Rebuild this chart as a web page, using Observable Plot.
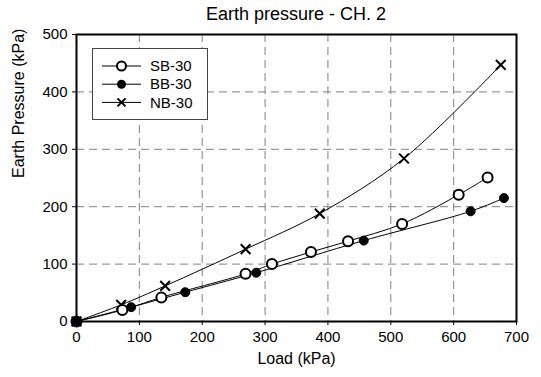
<!DOCTYPE html>
<html>
<head>
<meta charset="utf-8">
<script src="https://cdn.jsdelivr.net/npm/d3@7"></script>
<script src="https://cdn.jsdelivr.net/npm/@observablehq/plot@0.6"></script>
<style>
  html, body { margin: 0; padding: 0; background: #fff; }
  body { width: 541px; height: 377px; position: relative; overflow: hidden; font-family: "Liberation Sans", Arial, sans-serif; }
  #chart { position: absolute; left: 0; top: 14px; z-index: 1; }
  #title { position: absolute; left: 76px; width: 440px; top: 4px; text-align: center; font-size: 18px; color: #000; z-index: 2; }
  #legend { position: absolute; left: 92px; top: 48px; width: 114px; height: 70px; border: 1px solid #444; background: #fff; z-index: 3; }
</style>
</head>
<body>
<div id="chart"></div>
<div id="title">Earth pressure - CH. 2</div>
<div id="legend"></div>
<script>
const seriesNames = ["SB-30", "BB-30", "NB-30"];

const sbLoad = [0, 73, 135, 269, 311, 373, 432, 518, 608, 654];
const sbPressure = [0, 20, 42, 83, 100, 121, 140, 170, 221, 251];

const bbLoad = [0, 87, 173, 286, 457, 627, 680];
const bbPressure = [0, 25, 51, 85, 141, 192, 215];

const nbLoad = [0, 71, 141, 269, 387, 521, 675];
const nbPressure = [0, 29, 62, 126, 188, 284, 447];

const xTicks = [0, 100, 200, 300, 400, 500, 600, 700];
const yTicks = [0, 100, 200, 300, 400, 500];

const toRows = (loads, vals, name) => loads.map((l, i) => ({load: l, pressure: vals[i], series: name}));
const sb = toRows(sbLoad, sbPressure, seriesNames[0]);
const bb = toRows(bbLoad, bbPressure, seriesNames[1]);
const nb = toRows(nbLoad, nbPressure, seriesNames[2]);

const lineOpts = {x: "load", y: "pressure", stroke: "black", strokeWidth: 1, curve: "catmull-rom"};

const chart = Plot.plot({
  width: 541,
  height: 363,
  marginLeft: 76,
  marginRight: 25,
  marginTop: 20,
  marginBottom: 56,
  style: {fontFamily: "Liberation Sans, Arial, sans-serif", fontSize: "15px", color: "#000", background: "transparent"},
  x: {domain: [0, 700], ticks: xTicks},
  y: {domain: [0, 500], ticks: yTicks},
  marks: [
    Plot.gridX(xTicks.slice(1, -1), {stroke: "#808080", strokeOpacity: 1, strokeWidth: 1, strokeDasharray: "8,5"}),
    Plot.gridY(yTicks.slice(1, -1), {stroke: "#808080", strokeOpacity: 1, strokeWidth: 1, strokeDasharray: "8,5"}),
    Plot.axisX(xTicks, {tickSize: 4, tickPadding: 6, fontSize: 15, label: null}),
    Plot.axisY(yTicks, {tickSize: 4, tickPadding: 5, fontSize: 15, label: null}),
    Plot.text(["Load (kPa)"], {frameAnchor: "bottom", dy: 42, fontSize: 16, text: d => d}),
    Plot.text(["Earth Pressure (kPa)"], {frameAnchor: "left", dx: -58, rotate: -90, fontSize: 16, text: d => d}),
    Plot.line(sb, lineOpts),
    Plot.line(bb, lineOpts),
    Plot.line(nb, lineOpts),
    Plot.dot(nb, {x: "load", y: "pressure", symbol: "times", r: 4.5, stroke: "black", strokeWidth: 2}),
    Plot.dot(sb, {x: "load", y: "pressure", symbol: "circle", r: 5, stroke: "black", fill: "white", strokeWidth: 2}),
    Plot.dot(bb, {x: "load", y: "pressure", symbol: "circle", r: 4.5, stroke: "black", fill: "black", strokeWidth: 1}),
    Plot.frame({stroke: "black", strokeWidth: 2})
  ]
});
document.getElementById("chart").appendChild(chart);

// Legend overlay
const lg = d3.select("#legend").append("svg").attr("width", 114).attr("height", 70);
const symbols = ["open", "filled", "times"];
seriesNames.forEach((name, i) => {
  const cy = 17 + i * 18.2;
  const g = lg.append("g");
  g.append("line").attr("x1", 9).attr("x2", 48).attr("y1", cy).attr("y2", cy).attr("stroke", "black").attr("stroke-width", 1);
  if (symbols[i] === "open") {
    g.append("circle").attr("cx", 28.5).attr("cy", cy).attr("r", 4.5).attr("fill", "white").attr("stroke", "black").attr("stroke-width", 2);
  } else if (symbols[i] === "filled") {
    g.append("circle").attr("cx", 28.5).attr("cy", cy).attr("r", 4.5).attr("fill", "black");
  } else {
    const s = 4;
    g.append("path").attr("d", `M${28.5 - s},${cy - s}L${28.5 + s},${cy + s}M${28.5 - s},${cy + s}L${28.5 + s},${cy - s}`).attr("stroke", "black").attr("stroke-width", 2);
  }
  g.append("text").attr("x", 57).attr("y", cy).attr("dy", "0.35em").attr("font-size", 15).attr("font-family", "Liberation Sans, Arial, sans-serif").text(name);
});
</script>
</body>
</html>
